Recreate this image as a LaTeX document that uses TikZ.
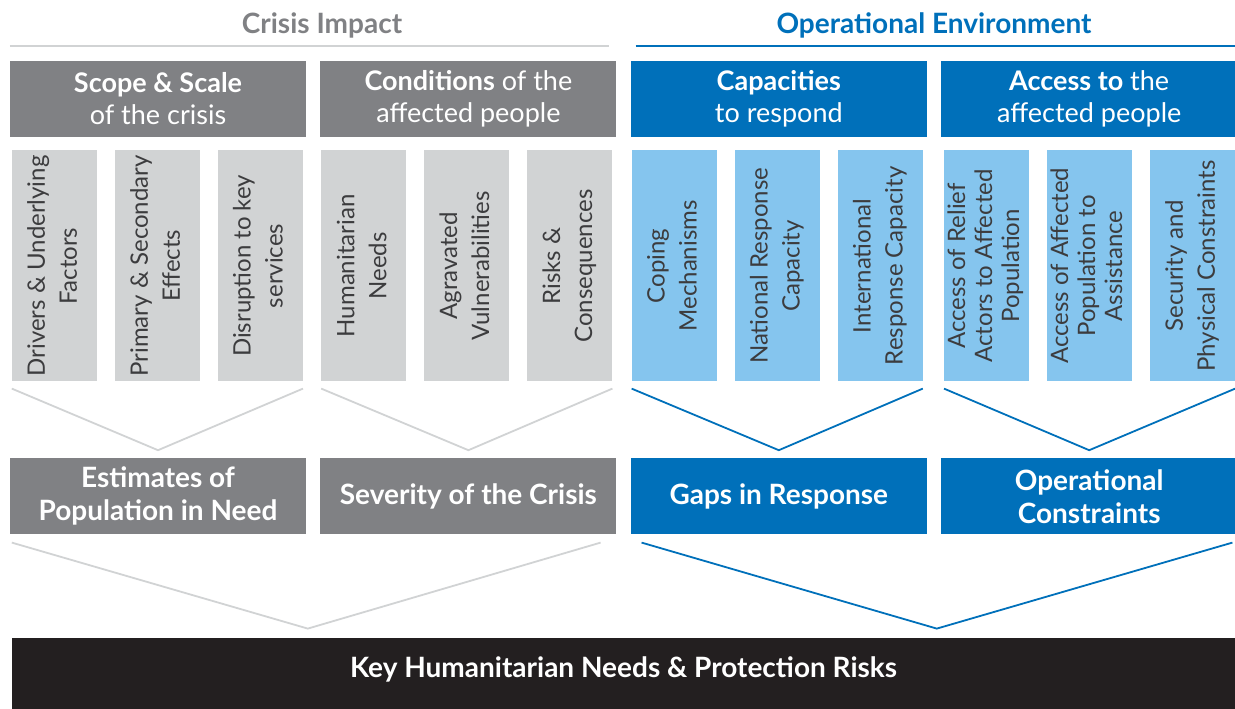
\documentclass[tikz,border=0pt]{standalone}
\usepackage{fontspec}
\setmainfont{Lato}
\usepackage{graphicx}
\usepackage{xcolor}
\usetikzlibrary{positioning}

\definecolor{impactgray}{HTML}{808184}
\definecolor{impactlight}{HTML}{D1D3D4}
\definecolor{envblue}{HTML}{0070BA}
\definecolor{envlight}{HTML}{85C5EE}
\definecolor{itemtext}{HTML}{3C3C3E}
\definecolor{keyblack}{HTML}{231F20}

\newcommand{\vtext}[1]{\rotatebox{90}{\begin{tabular}{@{}c@{}}#1\end{tabular}}}

\begin{document}
\begin{tikzpicture}[x=1pt, y=-1pt, node distance=14pt,
            head/.style={rectangle, inner sep=0pt, minimum width=296pt, minimum height=76pt, text=white, align=center, font=\fontsize{27}{32}\selectfont},
            item/.style={rectangle, inner sep=0pt, minimum width=85pt, minimum height=231pt, text=itemtext, font=\fontsize{24}{32}\selectfont},
            item3/.style={item, font=\fontsize{24}{27}\selectfont},
            result/.style={head, font=\bfseries\fontsize{28}{33}\selectfont},
            title/.style={inner sep=0pt, font=\bfseries\fontsize{28}{30}\selectfont},
            rule/.style={line width=2pt},
            funnel/.style={line width=1.8pt}]
    \useasboundingbox (0,0) rectangle (1235,709);

    % Titles
    \node[title, text=impactgray] (impact) at (322,25) {Crisis Impact};
    \node[title, text=envblue] (environment) at (934,25) {Operational Environment};

    % Headers
    \node[head, fill=impactgray] (scope) at (158,99) {\textbf{Scope \& Scale}\\of the crisis};
    \node[head, fill=impactgray, right=of scope] (conditions) {\textbf{Conditions} of the\\affected people};
    \node[head, fill=envblue, right=of conditions] (capacities) {\textbf{Capacities}\\to respond};
    \node[head, fill=envblue, right=of capacities] (access) {\textbf{Access to} the\\affected people};

    % Rules
    \draw[rule, impactlight] ([yshift=15pt]scope.north west) -- ([xshift=-8pt, yshift=15pt]conditions.north east);
    \draw[rule, envblue] ([xshift=5pt, yshift=15pt]capacities.north west) -- ([yshift=15pt]access.north east);

    % Items
    \node[item, fill=impactlight, below right=13pt and 2pt of scope.south west] (drivers) {\vtext{Drivers \& Underlying\\Factors}};
    \node[item, fill=impactlight, right=17.5pt of drivers] (effects) {\vtext{Primary \& Secondary\\Effects}};
    \node[item, fill=impactlight, right=17.5pt of effects] (disruption) {\vtext{Disruption to key\\services}};
    \node[item, fill=impactlight, below right=13pt and 1pt of conditions.south west] (needs) {\vtext{Humanitarian\\Needs}};
    \node[item, fill=impactlight, right=17.5pt of needs] (vulnerabilities) {\vtext{Agravated\\Vulnerabilities}};
    \node[item, fill=impactlight, right=17.5pt of vulnerabilities] (risks) {\vtext{Risks \&\\Consequences}};
    \node[item, fill=envlight, below right=13pt and 1pt of capacities.south west] (coping) {\vtext{Coping\\Mechanisms}};
    \node[item, fill=envlight, right=17.5pt of coping] (national) {\vtext{National Response\\Capacity}};
    \node[item, fill=envlight, right=17.5pt of national] (international) {\vtext{International\\Response Capacity}};
    \node[item3, fill=envlight, below right=13pt and 3pt of access.south west] (relief) {\vtext{Access of Relief\\Actors to Affected\\Population}};
    \node[item3, fill=envlight, right=17.5pt of relief] (assistance) {\vtext{Access of Affected\\Population to\\Assistance}};
    \node[item, fill=envlight, right=17.5pt of assistance] (security) {\vtext{Security and\\Physical Constraints}};

    % Results
    \node[result, fill=impactgray, below=321pt of scope] (estimates) {Estimates of\\Population in Need};
    \node[result, fill=impactgray, below=321pt of conditions] (severity) {Severity of the Crisis};
    \node[result, fill=envblue, below=321pt of capacities] (gaps) {Gaps in Response};
    \node[result, fill=envblue, below=321pt of access] (constraints) {Operational\\Constraints};

    % Key
    \node[result, fill=keyblack, minimum width=1223pt, minimum height=72pt, text depth=14pt,
        below right=103pt and 2pt of estimates.south west] (key) {Key Humanitarian Needs \& Protection Risks};

    % Funnels
    \draw[funnel, impactlight] ([yshift=-7pt]drivers.south west) -- ([yshift=8pt]estimates.north) -- ([yshift=-7pt]disruption.south east);
    \draw[funnel, impactlight] ([yshift=-7pt]needs.south west) -- ([yshift=8pt]severity.north) -- ([yshift=-7pt]risks.south east);
    \draw[funnel, envblue] ([yshift=-7pt]coping.south west) -- ([yshift=8pt]gaps.north) -- ([yshift=-7pt]international.south east);
    \draw[funnel, envblue] ([yshift=-7pt]relief.south west) -- ([yshift=8pt]constraints.north) -- ([yshift=-7pt]security.south east);
    \draw[funnel, impactlight] ([xshift=2pt, yshift=-8pt]estimates.south west) -- ([xshift=296pt, yshift=9pt]key.north west) -- ([xshift=-16pt, yshift=-8pt]severity.south east);
    \draw[funnel, envblue] ([xshift=11pt, yshift=-8pt]gaps.south west) -- ([xshift=925pt, yshift=9pt]key.north west) -- ([xshift=-5pt, yshift=-8pt]constraints.south east);
\end{tikzpicture}
\end{document}
